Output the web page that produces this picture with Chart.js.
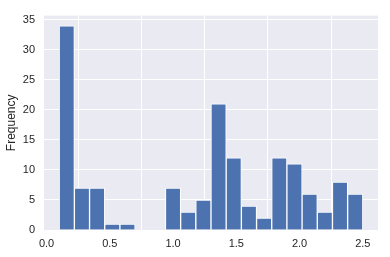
<!DOCTYPE html>
<html>
<head>
<meta charset="utf-8">
<script src="https://cdn.jsdelivr.net/npm/chart.js@4"></script>
<style>
  html, body { margin: 0; padding: 0; background: #fff; }
  #wrap { width: 390px; height: 257px; }
</style>
</head>
<body>
<div id="wrap"><canvas id="chart" width="390" height="257"></canvas></div>
<script>
// histogram bins (left edges) and counts
const binStart = 0.1;
const binWidth = 0.12;
const counts = [34, 7, 7, 1, 1, 0, 0, 7, 3, 5, 21, 12, 4, 2, 12, 11, 6, 3, 8, 6];
const xTicks = [0, 0.5, 1.0, 1.5, 2.0, 2.5];
const yTicks = [0, 5, 10, 15, 20, 25, 30, 35];

const textColor = '#262626';
const font = { family: "'Liberation Sans', Arial, sans-serif", size: 11 };

// shaded plot background like seaborn darkgrid
const plotBg = {
  id: 'plotBg',
  beforeDraw(chart) {
    const { ctx, chartArea: a } = chart;
    ctx.save();
    ctx.fillStyle = '#EAEAF2';
    ctx.fillRect(a.left, a.top, a.right - a.left, a.bottom - a.top);
    ctx.restore();
  }
};

new Chart(document.getElementById('chart'), {
  type: 'bar',
  plugins: [plotBg],
  data: {
    datasets: [{
      data: counts.map((c, i) => ({ x: binStart + binWidth * (i + 0.5), y: c })),
      backgroundColor: '#4C72B0',
      borderColor: '#ffffff',
      borderWidth: 1,
      barPercentage: 1,
      categoryPercentage: 1
    }]
  },
  options: {
    responsive: false,
    animation: false,
    layout: { padding: { top: 14, right: 12, left: 0, bottom: 0 } },
    plugins: { legend: { display: false }, tooltip: { enabled: false } },
    scales: {
      x: {
        type: 'linear',
        min: -0.02,
        max: 2.62,
        offset: false,
        afterBuildTicks: s => { s.ticks = xTicks.map(v => ({ value: v })); },
        afterFit: s => { s.height = 27; },
        border: { display: false },
        grid: { color: '#ffffff', lineWidth: 1, drawTicks: false },
        ticks: { color: textColor, font, padding: 7, maxRotation: 0, callback: v => v.toFixed(1) }
      },
      y: {
        min: 0,
        max: 35.7,
        afterBuildTicks: s => { s.ticks = yTicks.map(v => ({ value: v })); },
        afterFit: s => { s.width = 44; },
        border: { display: false },
        grid: { color: '#ffffff', lineWidth: 1, drawTicks: false },
        ticks: { color: textColor, font, padding: 9, callback: v => String(v) },
        title: { display: true, text: 'Frequency', color: textColor, font: { family: font.family, size: 12 } }
      }
    }
  }
});
</script>
</body>
</html>
